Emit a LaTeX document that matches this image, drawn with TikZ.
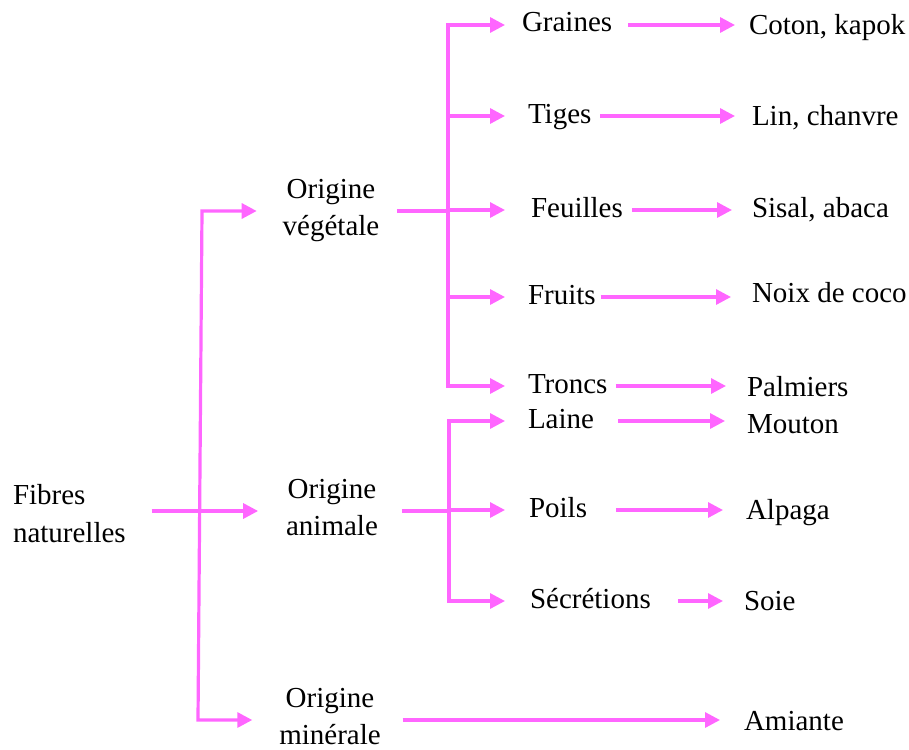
\documentclass[tikz,border=0pt]{standalone}
\usepackage{fontspec}
\setmainfont{Liberation Serif}
\newfontfamily\tnrfont{Liberation Serif}
\usetikzlibrary{arrows.meta}
\definecolor{pk}{HTML}{FF66FF}
\newcommand\twolines[2]{\rule{0pt}{20pt}#1\\#2\rule[-8.5pt]{0pt}{8.5pt}}
\begin{document}
\begin{tikzpicture}[x=1pt,y=-1pt,
  lbl/.style={inner sep=0pt, outer sep=0pt, anchor=base west, text height=20pt, text depth=6pt, font=\tnrfont\fontsize{29}{37.5}\selectfont},
  two/.style={inner sep=0pt, outer sep=0pt, align=center, font=\tnrfont\fontsize{29}{37.5}\selectfont},
  ln/.style={draw=pk, line width=3.2pt},
  arr/.style={ln, -{Triangle[length=15pt,width=15pt]}},
  barr/.style={ln, {Triangle[length=15pt,width=15pt]}-{Triangle[length=15pt,width=15pt]}}
]
\useasboundingbox (0,0) rectangle (909,749);

% root
\node[inner sep=0pt, outer sep=0pt, align=left, anchor=west, font=\tnrfont\fontsize{29}{37.5}\selectfont] (fib) at (13,511) {\rule{0pt}{27pt}Fibres\\naturelles\rule[-2pt]{0pt}{2pt}};

% level 1
\node[two] (veg) at (331,211) {\twolines{Origine}{végétale}};
\node[two] (ani) at (332,511) {\twolines{Origine}{animale}};
\node[two] (min) at (330,720) {\twolines{Origine}{minérale}};

% level 2
\node[lbl] (graines)  at (522,32)  {Graines};
\node[lbl] (tiges)    at (528,123) {Tiges};
\node[lbl] (feuilles) at (531,217) {Feuilles};
\node[lbl] (fruits)   at (528,304) {Fruits};
\node[lbl] (troncs)   at (528,393) {Troncs};
\node[lbl] (laine)    at (528,428) {Laine};
\node[lbl] (poils)    at (529,517) {Poils};
\node[lbl] (secr)     at (530,608) {Sécrétions};

% level 3
\node[lbl] (coton)   at (749,35)  {Coton, kapok};
\node[lbl] (lin)     at (752,125) {Lin, chanvre};
\node[lbl] (sisal)   at (752,217) {Sisal, abaca};
\node[lbl] (noix)    at (752,302) {Noix de coco};
\node[lbl] (palm)    at (747,396) {Palmiers};
\node[lbl] (mouton)  at (747,433) {Mouton};
\node[lbl] (alpaga)  at (746,519) {Alpaga};
\node[lbl] (soie)    at (744,610) {Soie};
\node[lbl] (amiante) at (744,730) {Amiante};

% junction coordinates
\coordinate (tTop) at (202,211);
\coordinate (tBot) at (198,720);
\coordinate (vx) at (448,0);
\coordinate (ax) at (449,0);

% trunk
\draw[barr, shorten <=26pt, shorten >=27pt] (veg.west) -- (tTop) -- (tBot) -- (min.west);
\draw[arr, shorten <=26pt, shorten >=28pt] (fib.east) -- (ani.west);

% vegetal branch
\draw[ln, shorten <=18pt] (veg.east) -- (vx |- veg);
\draw[barr, shorten <=17pt, shorten >=23pt] (graines.west) -- (vx |- graines) -- (vx |- troncs) -- (troncs.west);
\draw[arr, shorten >=23pt] (vx |- tiges) -- (tiges.west);
\draw[arr, shorten >=26pt] (vx |- feuilles) -- (feuilles.west);
\draw[arr, shorten >=23pt] (vx |- fruits) -- (fruits.west);

% animal branch
\draw[ln, shorten <=24pt] (ani.east) -- (ax |- ani);
\draw[barr, shorten <=23pt, shorten >=25pt] (laine.west) -- (ax |- laine) -- (ax |- secr) -- (secr.west);
\draw[arr, shorten >=24pt] (ax |- poils) -- (poils.west);

% to examples
\draw[arr, shorten <=16pt, shorten >=14pt] (graines.east) -- (graines.east -| coton.west);
\draw[arr, shorten <=9pt, shorten >=17pt] (tiges.east) -- (tiges.east -| lin.west);
\draw[arr, shorten <=9pt, shorten >=20pt] (feuilles.east) -- (feuilles.east -| sisal.west);
\draw[arr, shorten <=5pt, shorten >=21pt] (fruits.east) -- (fruits.east -| noix.west);
\draw[arr, shorten <=8pt, shorten >=21pt] (troncs.east) -- (troncs.east -| palm.west);
\draw[arr, shorten <=24pt, shorten >=22pt] (laine.east) -- (laine.east -| mouton.west);
\draw[arr, shorten <=29pt, shorten >=23pt] (poils.east) -- (poils.east -| alpaga.west);
\draw[arr, shorten <=27pt, shorten >=21pt] (secr.east) -- (secr.east -| soie.west);
\draw[arr, shorten <=22pt, shorten >=24pt] (min.east) -- (min.east -| amiante.west);
\end{tikzpicture}
\end{document}
